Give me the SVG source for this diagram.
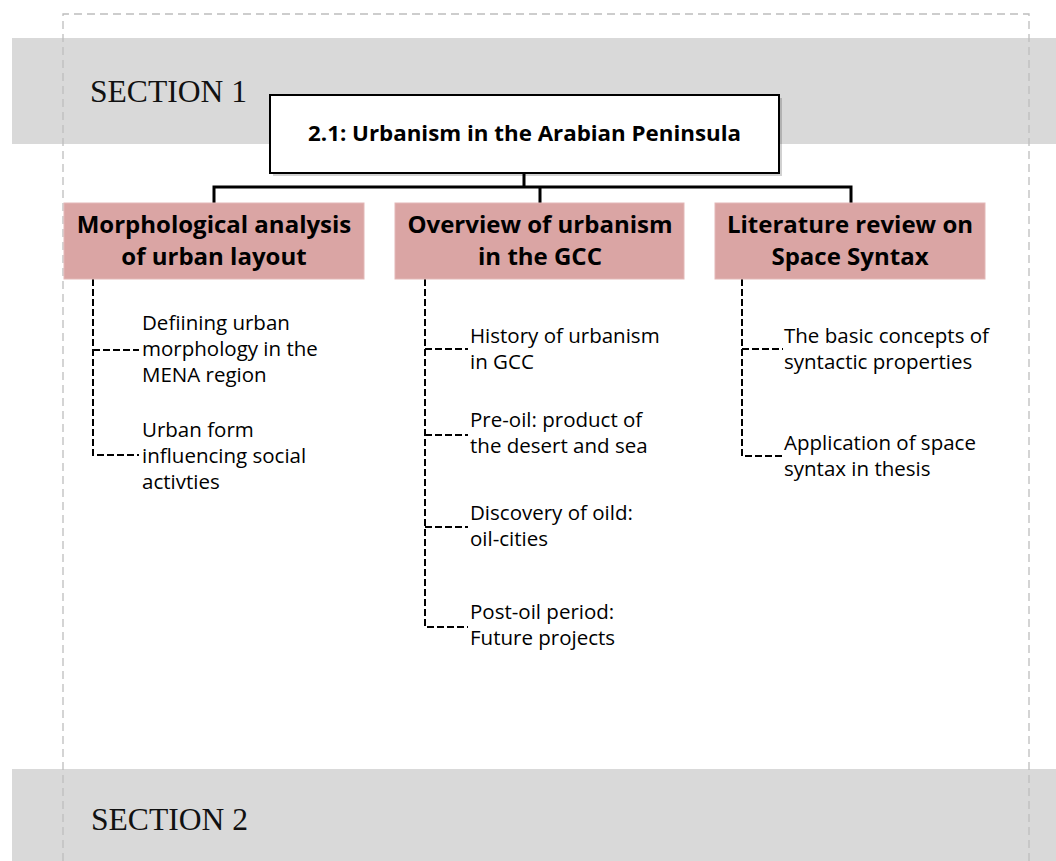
<svg xmlns="http://www.w3.org/2000/svg" width="1056" height="861" viewBox="0 0 1056 861">
<defs>
<style>
.band{fill:#d9d9d9}
.sec{font-family:"Liberation Serif","Times New Roman",serif;font-size:31px;fill:#111}
.border{fill:none;stroke:#bdbdbd;stroke-width:1.3;stroke-dasharray:8 5}
.title{fill:#fff;stroke:#000;stroke-width:2}
.tt{font-family:"Open Sans","Liberation Sans",sans-serif;font-weight:bold;font-size:22px;fill:#000;text-anchor:middle}
.pink{fill:#daa5a4;stroke:#e3b8b7;stroke-width:1}
.pt{font-family:"Open Sans","Liberation Sans",sans-serif;font-weight:bold;font-size:24px;fill:#000;text-anchor:middle}
.st{font-family:"Open Sans","Liberation Sans",sans-serif;font-size:20.5px;fill:#000}
.solid{fill:none;stroke:#000;stroke-width:3}
.dash{fill:none;stroke:#000;stroke-width:2;stroke-dasharray:7 3}
</style>
</defs>
<rect width="1056" height="861" fill="#fff"/>
<g id="band1">
<rect class="band" x="12" y="38" width="1044" height="106"/>
<text class="sec" x="90" y="102" textLength="157" lengthAdjust="spacingAndGlyphs">SECTION 1</text>
</g>
<g id="band2">
<rect class="band" x="12" y="769" width="1044" height="92"/>
<text class="sec" x="91" y="830" textLength="157" lengthAdjust="spacingAndGlyphs">SECTION 2</text>
</g>
<g id="frame">
<path class="border" d="M63 861 V14 H1029 V861"/>
</g>
<g id="connectors">
<path class="solid" d="M524 173 V187 M214 203 V187 H851 V203 M540 187 V203"/>
<path class="dash" d="M93 279 V455 H139 M93 350 H139"/>
<path class="dash" d="M425 279 V627 H468 M425 349 H468 M425 435 H468 M425 527 H468"/>
<path class="dash" d="M742 279 V456 H783 M742 349 H783"/>
</g>
<g id="title">
<rect x="273" y="98" width="509" height="78" fill="#000" opacity="0.18"/>
<rect class="title" x="270" y="95" width="509" height="78"/>
<text class="tt" x="524.5" y="141" textLength="433" lengthAdjust="spacingAndGlyphs">2.1: Urbanism in the Arabian Peninsula</text>
</g>
<g id="morph">
<rect class="pink" x="64" y="203" width="300" height="76"/>
<text class="pt" x="214" y="233">Morphological analysis</text>
<text class="pt" x="214" y="265">of urban layout</text>
</g>
<g id="overview">
<rect class="pink" x="395" y="203" width="289" height="76"/>
<text class="pt" x="540" y="233">Overview of urbanism</text>
<text class="pt" x="540" y="265">in the GCC</text>
</g>
<g id="litreview">
<rect class="pink" x="715" y="203" width="270" height="76"/>
<text class="pt" x="850" y="233">Literature review on</text>
<text class="pt" x="850" y="265">Space Syntax</text>
</g>
<g id="m1"><text class="st" x="142" y="330">Defiining urban</text><text class="st" x="142" y="356">morphology in the</text><text class="st" x="142" y="382">MENA region</text></g>
<g id="m2"><text class="st" x="142" y="437">Urban form</text><text class="st" x="142" y="463">influencing social</text><text class="st" x="142" y="489">activties</text></g>
<g id="o1"><text class="st" x="470" y="343">History of urbanism</text><text class="st" x="470" y="369">in GCC</text></g>
<g id="o2"><text class="st" x="470" y="427">Pre-oil: product of</text><text class="st" x="470" y="453">the desert and sea</text></g>
<g id="o3"><text class="st" x="470" y="520">Discovery of oild:</text><text class="st" x="470" y="546">oil-cities</text></g>
<g id="o4"><text class="st" x="470" y="619">Post-oil period:</text><text class="st" x="470" y="645">Future projects</text></g>
<g id="l1"><text class="st" x="784" y="343">The basic concepts of</text><text class="st" x="784" y="369">syntactic properties</text></g>
<g id="l2"><text class="st" x="784" y="450">Application of space</text><text class="st" x="784" y="476">syntax in thesis</text></g>
</svg>
